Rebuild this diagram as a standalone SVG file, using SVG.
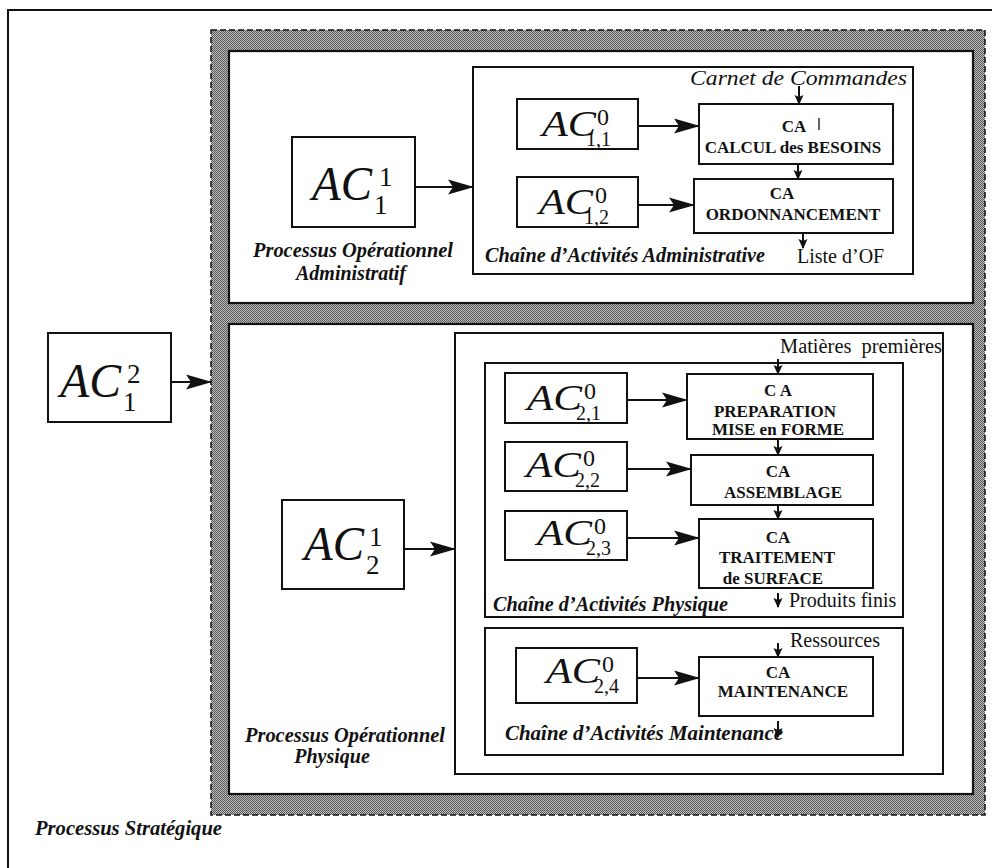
<svg xmlns="http://www.w3.org/2000/svg" width="992" height="868" viewBox="0 0 992 868">
<style>
.box{fill:#fff;stroke:#111;stroke-width:2}
.wbox{fill:#fff;stroke:#111;stroke-width:2.2}
.ln{fill:none;stroke:#111;stroke-width:2}
.ac{font-family:"Liberation Serif","Times New Roman",serif;font-style:italic;fill:#111}
.dg{font-family:"Liberation Serif","Times New Roman",serif;fill:#111}
.bd{font-family:"Liberation Serif","Times New Roman",serif;font-weight:bold;font-size:17px;fill:#111;text-anchor:middle}
.bi{font-family:"Liberation Serif","Times New Roman",serif;font-weight:bold;font-style:italic;font-size:20px;fill:#111}
.rg{font-family:"Liberation Serif","Times New Roman",serif;font-size:20px;fill:#111}
</style>
<defs>
<pattern id="ht" width="2" height="2" patternUnits="userSpaceOnUse">
<rect width="2" height="2" fill="#bababa"/>
<rect width="1" height="1" fill="#5a5a5a"/>
<rect x="1" y="1" width="1" height="1" fill="#5a5a5a"/>
</pattern>
<marker id="big" markerUnits="userSpaceOnUse" markerWidth="26" markerHeight="16" refX="25" refY="8" orient="auto">
<path d="M0,0.5 L26,8 L0,15.5 L5,8 Z" fill="#111"/>
</marker>
<marker id="sm" markerUnits="userSpaceOnUse" markerWidth="10" markerHeight="10" refX="9" refY="5" orient="auto">
<path d="M0,0.5 L10,5 L0,9.5 L2,5 Z" fill="#111"/>
</marker>
</defs>
<rect width="992" height="868" fill="#fff"/>

<g id="strategique">
<rect x="8" y="10" width="1000" height="900" fill="none" stroke="#111" stroke-width="2"/>
<text class="bi" x="35" y="835" textLength="187" lengthAdjust="spacingAndGlyphs">Processus Stratégique</text>
</g>

<g id="bande">
<rect x="211" y="30" width="774" height="785" fill="url(#ht)" stroke="#111" stroke-width="1.5" stroke-dasharray="6 3"/>
</g>

<g id="op-admin">
<rect class="wbox" x="229" y="51" width="744" height="252"/>
<text class="bi" x="253" y="257" textLength="200" lengthAdjust="spacingAndGlyphs">Processus Opérationnel</text>
<text class="bi" x="351" y="280" text-anchor="middle">Administratif</text>
</g>

<g id="op-phys">
<rect class="wbox" x="229" y="324" width="744" height="470"/>
<text class="bi" x="245" y="742" textLength="200" lengthAdjust="spacingAndGlyphs">Processus Opérationnel</text>
<text class="bi" x="332" y="763" text-anchor="middle">Physique</text>
</g>

<g id="ac12">
<rect class="box" x="48" y="333" width="123" height="89"/>
<text class="ac" x="60" y="397" font-size="48" textLength="61" lengthAdjust="spacingAndGlyphs">AC</text>
<text class="dg" x="127" y="383" font-size="27">2</text>
<text class="dg" x="123" y="411" font-size="27">1</text>
</g>

<g id="ac11">
<rect class="box" x="292" y="137" width="123" height="90"/>
<text class="ac" x="312" y="200" font-size="48" textLength="60" lengthAdjust="spacingAndGlyphs">AC</text>
<text class="dg" x="379" y="186" font-size="27">1</text>
<text class="dg" x="374" y="214" font-size="27">1</text>
</g>

<g id="ac21">
<rect class="box" x="282" y="500" width="122" height="89"/>
<text class="ac" x="304" y="560" font-size="48" textLength="60" lengthAdjust="spacingAndGlyphs">AC</text>
<text class="dg" x="369" y="546" font-size="27">1</text>
<text class="dg" x="366" y="574" font-size="27">2</text>
</g>

<g id="chaine-admin">
<rect class="box" x="473" y="67" width="440" height="207"/>
<text class="ac" x="690" y="85" font-size="21" textLength="217" lengthAdjust="spacingAndGlyphs">Carnet de Commandes</text>
<text class="bi" x="485" y="262" textLength="280" lengthAdjust="spacingAndGlyphs">Chaîne d’Activités Administrative</text>
<text class="rg" x="797" y="263">Liste d’OF</text>
</g>

<g id="ac0-11">
<rect class="box" x="517" y="99" width="121" height="50"/>
<text class="ac" x="542" y="136" font-size="36" textLength="54" lengthAdjust="spacingAndGlyphs">AC</text>
<text class="dg" x="597" y="125" font-size="24">0</text>
<text class="dg" x="586" y="146" font-size="20">1,1</text>
</g>

<g id="ac0-12">
<rect class="box" x="517" y="177" width="121" height="50"/>
<text class="ac" x="539" y="214" font-size="36" textLength="54" lengthAdjust="spacingAndGlyphs">AC</text>
<text class="dg" x="595" y="203" font-size="24">0</text>
<text class="dg" x="584" y="224" font-size="20">1,2</text>
</g>

<g id="ca-calcul">
<rect class="box" x="699" y="104" width="194" height="60"/>
<text class="bd" x="794" y="132" font-size="18">CA</text>
<line x1="819" y1="118" x2="819" y2="130" stroke="#111" stroke-width="1.3"/>
<text class="bd" x="793" y="153">CALCUL des BESOINS</text>
</g>

<g id="ca-ordo">
<rect class="box" x="694" y="179" width="199" height="54"/>
<text class="bd" x="782" y="199" font-size="18">CA</text>
<text class="bd" x="793" y="220">ORDONNANCEMENT</text>
</g>

<g id="sys-phys">
<rect class="box" x="455" y="333" width="488" height="441"/>
<text class="rg" x="780" y="353" textLength="162" lengthAdjust="spacingAndGlyphs" xml:space="preserve">Matières  premières</text>
</g>

<g id="chaine-phys">
<rect class="box" x="485" y="363" width="418" height="254"/>
<text class="bi" x="493" y="611" textLength="235" lengthAdjust="spacingAndGlyphs">Chaîne d’Activités Physique</text>
<text class="rg" x="789" y="607">Produits finis</text>
</g>

<g id="ac0-21">
<rect class="box" x="505" y="373" width="122" height="50"/>
<text class="ac" x="527" y="410" font-size="36" textLength="55" lengthAdjust="spacingAndGlyphs">AC</text>
<text class="dg" x="584" y="399" font-size="24">0</text>
<text class="dg" x="576" y="420" font-size="20">2,1</text>
</g>

<g id="ac0-22">
<rect class="box" x="505" y="442" width="122" height="49"/>
<text class="ac" x="526" y="477" font-size="36" textLength="55" lengthAdjust="spacingAndGlyphs">AC</text>
<text class="dg" x="583" y="466" font-size="24">0</text>
<text class="dg" x="575" y="487" font-size="20">2,2</text>
</g>

<g id="ac0-23">
<rect class="box" x="505" y="511" width="122" height="49"/>
<text class="ac" x="537" y="545" font-size="36" textLength="55" lengthAdjust="spacingAndGlyphs">AC</text>
<text class="dg" x="594" y="534" font-size="24">0</text>
<text class="dg" x="586" y="555" font-size="20">2,3</text>
</g>

<g id="ca-prep">
<rect class="box" x="687" y="374" width="186" height="65"/>
<text class="bd" x="778" y="396" font-size="18">C A</text>
<text class="bd" x="775" y="417">PREPARATION</text>
<text class="bd" x="778" y="435">MISE en FORME</text>
</g>

<g id="ca-assem">
<rect class="box" x="691" y="455" width="182" height="50"/>
<text class="bd" x="778" y="477" font-size="18">CA</text>
<text class="bd" x="783" y="498">ASSEMBLAGE</text>
</g>

<g id="ca-trait">
<rect class="box" x="699" y="519" width="174" height="69"/>
<text class="bd" x="778" y="543" font-size="18">CA</text>
<text class="bd" x="777" y="563">TRAITEMENT</text>
<text class="bd" x="773" y="584">de SURFACE</text>
</g>

<g id="chaine-maint">
<rect class="box" x="485" y="628" width="418" height="127"/>
<text class="rg" x="790" y="647">Ressources</text>
<text class="bi" x="505" y="740" textLength="278" lengthAdjust="spacingAndGlyphs">Chaîne d’Activités Maintenance</text>
</g>

<g id="ac0-24">
<rect class="box" x="516" y="648" width="121" height="55"/>
<text class="ac" x="546" y="683" font-size="36" textLength="54" lengthAdjust="spacingAndGlyphs">AC</text>
<text class="dg" x="602" y="672" font-size="24">0</text>
<text class="dg" x="594" y="693" font-size="20">2,4</text>
</g>

<g id="ca-maint">
<rect class="box" x="699" y="657" width="174" height="59"/>
<text class="bd" x="778" y="678" font-size="18">CA</text>
<text class="bd" x="783" y="697">MAINTENANCE</text>
</g>

<g id="connectors">
<line class="ln" x1="171" y1="382" x2="211" y2="382" marker-end="url(#big)"/>
<line class="ln" x1="415" y1="187" x2="473" y2="187" marker-end="url(#big)"/>
<line class="ln" x1="404" y1="549" x2="455" y2="549" marker-end="url(#big)"/>
<line class="ln" x1="638" y1="126" x2="699" y2="126" marker-end="url(#big)"/>
<line class="ln" x1="638" y1="205" x2="694" y2="205" marker-end="url(#big)"/>
<line class="ln" x1="627" y1="400" x2="687" y2="400" marker-end="url(#big)"/>
<line class="ln" x1="627" y1="469" x2="691" y2="469" marker-end="url(#big)"/>
<line class="ln" x1="627" y1="538" x2="699" y2="538" marker-end="url(#big)"/>
<line class="ln" x1="637" y1="678" x2="699" y2="678" marker-end="url(#big)"/>
<line class="ln" x1="799" y1="86" x2="799" y2="104" marker-end="url(#sm)"/>
<line class="ln" x1="798" y1="164" x2="798" y2="179" marker-end="url(#sm)"/>
<line class="ln" x1="803" y1="233" x2="803" y2="248" marker-end="url(#sm)"/>
<line class="ln" x1="778" y1="359" x2="778" y2="374" marker-end="url(#sm)"/>
<line class="ln" x1="778" y1="439" x2="778" y2="455" marker-end="url(#sm)"/>
<line class="ln" x1="778" y1="505" x2="778" y2="519" marker-end="url(#sm)"/>
<line class="ln" x1="778" y1="593" x2="778" y2="607" marker-end="url(#sm)"/>
<line class="ln" x1="778" y1="643" x2="778" y2="657" marker-end="url(#sm)"/>
<line class="ln" x1="778" y1="721" x2="778" y2="737" marker-end="url(#sm)"/>
</g>
</svg>
